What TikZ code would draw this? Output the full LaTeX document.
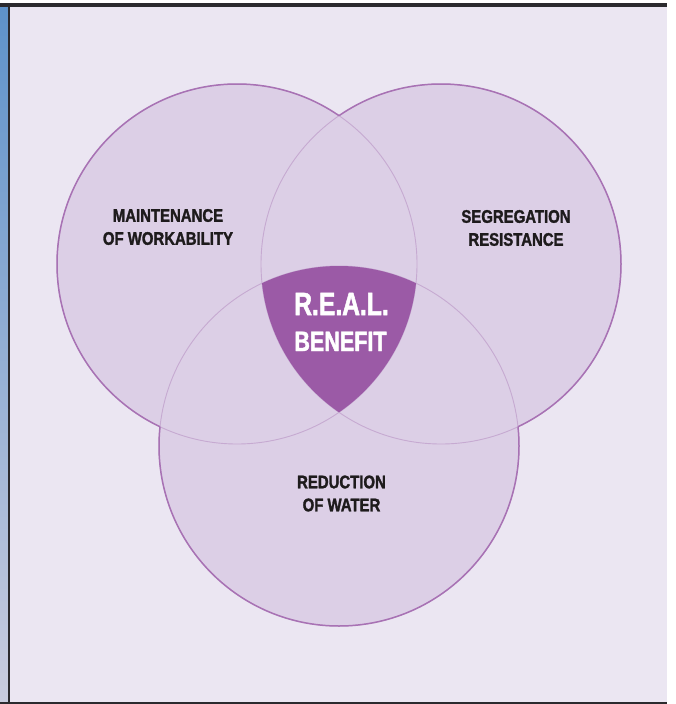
\documentclass[tikz,border=0pt]{standalone}
\usepackage{fontspec}
\newfontfamily\condfont[FakeStretch=0.82, BoldFeatures={FakeBold=1.6}]{Liberation Sans}
\newfontfamily\bigcondfont[FakeStretch=0.77, BoldFeatures={FakeBold=1.6}]{Liberation Sans}
\definecolor{bgc}{HTML}{EBE6F2}
\definecolor{circc}{HTML}{DCCFE6}
\definecolor{strongc}{HTML}{A872B4}
\definecolor{lightc}{HTML}{C6AAD1}
\definecolor{centerc}{HTML}{9B5AA6}
\definecolor{textc}{HTML}{1E1B1C}
\definecolor{framec}{HTML}{2B2A2E}
\definecolor{bluetop}{HTML}{5E92C9}
\definecolor{bluebot}{HTML}{C9CCDF}
\tikzset{
  lbl/.style={align=center, inner sep=0pt, text=textc,
    font={\condfont\bfseries\fontsize{18.2}{23}\selectfont}},
  biglbl/.style={anchor=base, inner sep=0pt, text=white},
  strongline/.style={draw=strongc, line width=1.5pt},
  lightline/.style={draw=lightc, line width=0.9pt},
}
\begin{document}
\begin{tikzpicture}[x=1pt,y=-1pt]
\useasboundingbox (0,0) rectangle (675,704);
\fill[white] (0,0) rectangle (675,704);
\fill[bgc] (10,6) rectangle (667,702);
\shade[top color=bluetop, bottom color=bluebot] (0,6) rectangle (7.5,702);
\fill[framec] (0,3) rectangle (667,6.5);
\fill[framec] (7.5,3) rectangle (10.3,704);
\fill[framec] (0,701.6) rectangle (667,704);

\coordinate (cL) at (237,264);
\coordinate (cR) at (441,264);
\coordinate (cB) at (339,446);

\fill[circc] (cL) circle[radius=180pt];
\fill[circc] (cR) circle[radius=180pt];
\fill[circc] (cB) circle[radius=180pt];

\draw[lightline] (cL) circle[radius=180pt];
\draw[lightline] (cR) circle[radius=180pt];
\draw[lightline] (cB) circle[radius=180pt];

\begin{scope}
  \clip (cL) circle[radius=180pt];
  \clip (cR) circle[radius=180pt];
  \fill[centerc] (cB) circle[radius=180pt];
\end{scope}

\begin{scope}[even odd rule]
  \clip (0,0) rectangle (675,704) (cR) circle[radius=180pt];
  \clip (0,0) rectangle (675,704) (cB) circle[radius=180pt];
  \draw[strongline] (cL) circle[radius=180pt];
\end{scope}
\begin{scope}[even odd rule]
  \clip (0,0) rectangle (675,704) (cL) circle[radius=180pt];
  \clip (0,0) rectangle (675,704) (cB) circle[radius=180pt];
  \draw[strongline] (cR) circle[radius=180pt];
\end{scope}
\begin{scope}[even odd rule]
  \clip (0,0) rectangle (675,704) (cL) circle[radius=180pt];
  \clip (0,0) rectangle (675,704) (cR) circle[radius=180pt];
  \draw[strongline] (cB) circle[radius=180pt];
\end{scope}

\node[lbl] (maint) at (168,227) {MAINTENANCE\\OF WORKABILITY};
\node[lbl] (segr) at (516,228) {SEGREGATION\\RESISTANCE};
\node[lbl] (redu) at (341.5,493.5) {REDUCTION\\OF WATER};
\node[biglbl, font={\bigcondfont\bfseries\fontsize{32}{36}\selectfont}] (real) at (341.5,315) {R.E.A.L.};
\node[biglbl, font={\bigcondfont\bfseries\fontsize{28}{32}\selectfont}] (bene) at (340.5,351) {BENEFIT};
\end{tikzpicture}
\end{document}
